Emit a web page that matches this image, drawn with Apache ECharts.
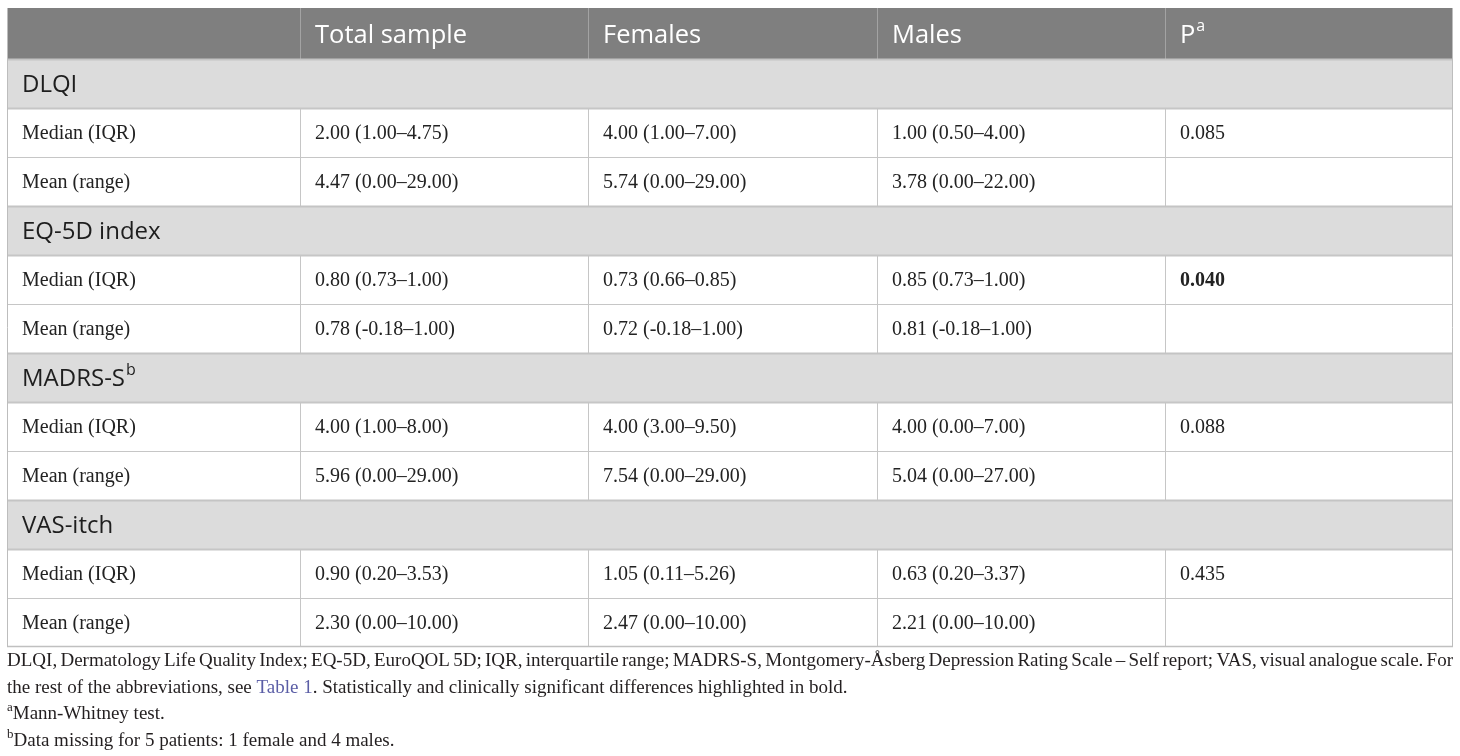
<!DOCTYPE html>
<html>
<head>
<meta charset="utf-8">
<script src="https://cdn.jsdelivr.net/npm/echarts@6/dist/echarts.min.js"></script>
<style>
  html, body { margin: 0; padding: 0; background: #fff; }
  #main { width: 1460px; height: 756px; }
</style>
</head>
<body>
<div id="main"></div>
<script>
// table content
var columns = ['', 'Total sample', 'Females', 'Males', 'P']
var columnSup = ['', '', '', '', 'a']
var sections = ['DLQI', 'EQ-5D index', 'MADRS-S', 'VAS-itch']
var sectionSup = ['', '', 'b', '']
var statLabels = ['Median (IQR)', 'Mean (range)']
var totalSample = ['2.00 (1.00–4.75)', '4.47 (0.00–29.00)', '0.80 (0.73–1.00)', '0.78 (-0.18–1.00)', '4.00 (1.00–8.00)', '5.96 (0.00–29.00)', '0.90 (0.20–3.53)', '2.30 (0.00–10.00)']
var females = ['4.00 (1.00–7.00)', '5.74 (0.00–29.00)', '0.73 (0.66–0.85)', '0.72 (-0.18–1.00)', '4.00 (3.00–9.50)', '7.54 (0.00–29.00)', '1.05 (0.11–5.26)', '2.47 (0.00–10.00)']
var males = ['1.00 (0.50–4.00)', '3.78 (0.00–22.00)', '0.85 (0.73–1.00)', '0.81 (-0.18–1.00)', '4.00 (0.00–7.00)', '5.04 (0.00–27.00)', '0.63 (0.20–3.37)', '2.21 (0.00–10.00)']
var pValues = ['0.085', '', '0.040', '', '0.088', '', '0.435', '']
var pBold = [false, false, true, false, false, false, false, false]
var noteLine1 = 'DLQI, Dermatology Life Quality Index; EQ-5D, EuroQOL 5D; IQR, interquartile range; MADRS-S, Montgomery-Åsberg Depression Rating Scale – Self report; VAS, visual analogue scale. For'
var noteLine2 = ['the rest of the abbreviations, see ', 'Table 1', '. Statistically and clinically significant differences highlighted in bold.']
var noteSup = ['a', 'b']
var noteSupText = ['Mann-Whitney test.', 'Data missing for 5 patients: 1 female and 4 males.']

// layout
var colX = [7, 300, 588, 877, 1165, 1453]
var top0 = 8
var rowH = 49
var pad = 15
var sansFont = '"Open Sans", "Noto Sans", sans-serif'
var serifFont = '"Liberation Serif", "DejaVu Serif", serif'

var ctx = document.createElement('canvas').getContext('2d')
function measure(text, font) {
  ctx.font = font
  return ctx.measureText(text).width
}

var els = []
function txt(x, y, text, font, fill) {
  els.push({
    type: 'text', silent: true,
    style: { x: x, y: y, text: text, font: font, fill: fill || '#222', align: 'left', verticalAlign: 'middle' }
  })
}
function hline(y, w, color) {
  els.push({ type: 'line', silent: true, shape: { x1: colX[0], y1: y, x2: colX[5], y2: y }, style: { stroke: color, lineWidth: w } })
}
function vline(x, y1, y2, color) {
  els.push({ type: 'line', silent: true, shape: { x1: x, y1: y1, x2: x, y2: y2 }, style: { stroke: color, lineWidth: 1 } })
}

// header row
var headFont = '25.5px ' + sansFont
els.push({ type: 'rect', silent: true, shape: { x: colX[0], y: top0, width: colX[5] - colX[0], height: rowH + 2 }, style: { fill: '#7f7f7f' } })
for (var c = 1; c < columns.length; c++) {
  var hy = top0 + rowH / 2 + 3
  txt(colX[c] + pad, hy, columns[c], headFont, '#fff')
  if (columnSup[c]) {
    txt(colX[c] + pad + measure(columns[c], headFont) + 1, hy - 9, columnSup[c], '16px ' + sansFont, '#fff')
  }
  vline(colX[c] + 0.5, top0, top0 + rowH + 2, '#a3a3a3')
}

// body rows
var dataFont = '20px ' + serifFont
var boldFont = 'bold 20px ' + serifFont
var secFont = '24px ' + sansFont
var y = top0 + rowH + 2
for (var s = 0; s < sections.length; s++) {
  els.push({ type: 'rect', silent: true, shape: { x: colX[0], y: y, width: colX[5] - colX[0], height: rowH }, style: { fill: '#dcdcdc' } })
  txt(colX[0] + pad, y + rowH / 2 + 2, sections[s], secFont, '#1e1e1e')
  if (sectionSup[s]) {
    txt(colX[0] + pad + measure(sections[s], secFont) + 1, y + rowH / 2 - 7, sectionSup[s], '16px ' + sansFont, '#1e1e1e')
  }
  hline(y + 0.5, 2, '#c4c4c4')
  y += rowH
  for (var k = 0; k < statLabels.length; k++) {
    var i = s * 2 + k
    var cy = y + rowH / 2 + 1
    hline(y + 0.5, k === 0 ? 2 : 1.2, '#c6c6c6')
    txt(colX[0] + pad, cy, statLabels[k], dataFont)
    txt(colX[1] + pad, cy, totalSample[i], dataFont)
    txt(colX[2] + pad, cy, females[i], dataFont)
    txt(colX[3] + pad, cy, males[i], dataFont)
    if (pValues[i]) txt(colX[4] + pad, cy, pValues[i], pBold[i] ? boldFont : dataFont)
    for (var c2 = 1; c2 < 5; c2++) vline(colX[c2] + 0.5, y, y + rowH, '#c6c6c6')
    y += rowH
  }
}
hline(y - 0.5, 1.5, '#c0c0c0')
var tableBottom = y
// outer border
vline(colX[0] + 0.5, top0, tableBottom, '#bdbdbd')
vline(colX[5] - 0.5, top0, tableBottom, '#bdbdbd')

// footnotes
var noteFont = '19px ' + serifFont
var noteColor = '#231f20'
var noteY = [661, 688, 714, 741]
// first line justified across the table width
var words = noteLine1.split(' ')
var wsum = 0
var ww = words.map(function (w) { var m = measure(w, noteFont); wsum += m; return m })
var gap = (colX[5] - colX[0] - wsum) / (words.length - 1)
var nx = colX[0]
words.forEach(function (w, j) {
  txt(nx, noteY[0], w, noteFont, noteColor)
  nx += ww[j] + gap
})
// second line with link colour
var nx2 = colX[0]
var linkColors = [noteColor, '#5b5ea6', noteColor]
noteLine2.forEach(function (part, j) {
  txt(nx2, noteY[1], part, noteFont, linkColors[j])
  nx2 += measure(part, noteFont)
})
for (var n = 0; n < noteSup.length; n++) {
  txt(colX[0], noteY[2 + n] - 6, noteSup[n], '13px ' + serifFont, noteColor)
  txt(colX[0] + measure(noteSup[n], '13px ' + serifFont), noteY[2 + n], noteSupText[n], noteFont, noteColor)
}

var myChart = echarts.init(document.getElementById('main'))
myChart.setOption({
  backgroundColor: '#fff',
  animation: false,
  graphic: { elements: els }
})
</script>
</body>
</html>
